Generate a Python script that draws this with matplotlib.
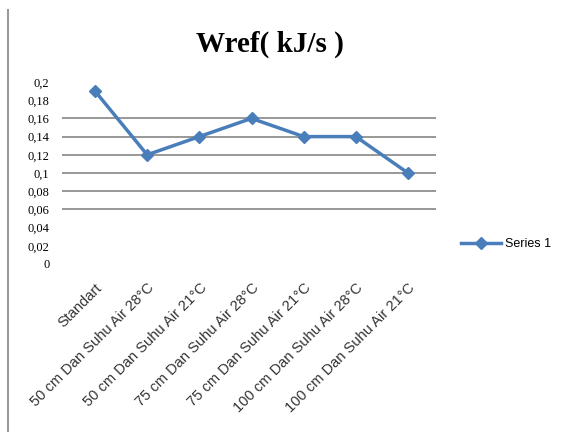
import numpy as np
import matplotlib.pyplot as plt
from matplotlib.lines import Line2D

# Chart data
categories = [
    "Standart",
    "50 cm Dan Suhu Air 28°C",
    "50 cm Dan Suhu Air 21°C",
    "75 cm Dan Suhu Air 28°C",
    "75 cm Dan Suhu Air 21°C",
    "100 cm Dan Suhu Air 28°C",
    "100 cm Dan Suhu Air 21°C",
]
wref = [0.19, 0.12, 0.14, 0.16, 0.14, 0.14, 0.10]
y_ticks = [0, 0.02, 0.04, 0.06, 0.08, 0.1, 0.12, 0.14, 0.16, 0.18, 0.2]
y_labels = ["0", "0,02", "0,04", "0,06", "0,08", "0,1", "0,12", "0,14", "0,16", "0,18", "0,2"]
grid_levels = [0.06, 0.08, 0.1, 0.12, 0.14, 0.16]

W, H = 567, 432
fig = plt.figure(figsize=(W / 100, H / 100), dpi=100)

# Plot area in pixel coordinates
left, right, top, bottom = 62, 436, 82, 264
ax = fig.add_axes([left / W, 1 - bottom / H, (right - left) / W, (bottom - top) / H])

x = np.arange(len(categories))
blue = "#4a7ebb"

for g in grid_levels:
    ax.axhline(g, color="#868686", lw=1.2, zorder=1)

ax.plot(x, wref, color=blue, lw=2.5, marker="D", ms=6, zorder=3)

ax.set_xlim(-0.633, len(categories) - 1 + 0.537)
ax.set_ylim(0, 0.2)
ax.set_yticks(y_ticks)
ax.set_yticklabels(y_labels, fontsize=9, family="Liberation Serif")
ax.tick_params(axis="y", length=0, pad=9)

ax.set_xticks(x)
ax.set_xticklabels(categories, rotation=45, ha="right", va="top",
                   rotation_mode="anchor", fontsize=10.5, family="Liberation Sans",
                   color="#333333")
ax.tick_params(axis="x", length=0, pad=12)

for s in ax.spines.values():
    s.set_visible(False)

fig.text(270 / W, 1 - 44 / H, "Wref( kJ/s )", ha="center", va="center",
         fontsize=21, fontweight="bold", family="Liberation Serif")

# Legend entry
handle = Line2D([], [], color=blue, lw=2.5, marker="D", ms=6)
fig.legend([handle], ["Series 1"], loc="center left",
           bbox_to_anchor=(450 / W, 1 - 244 / H), frameon=False,
           prop={"family": "Liberation Sans", "size": 9}, handlelength=3.2,
           handletextpad=0.3)

# Left border line from the original screenshot
fig.add_artist(Line2D([8 / W, 8 / W], [0, 1 - 10 / H], color="#9a9a9a", lw=1.5))

fig.savefig("out.png", dpi=100)
